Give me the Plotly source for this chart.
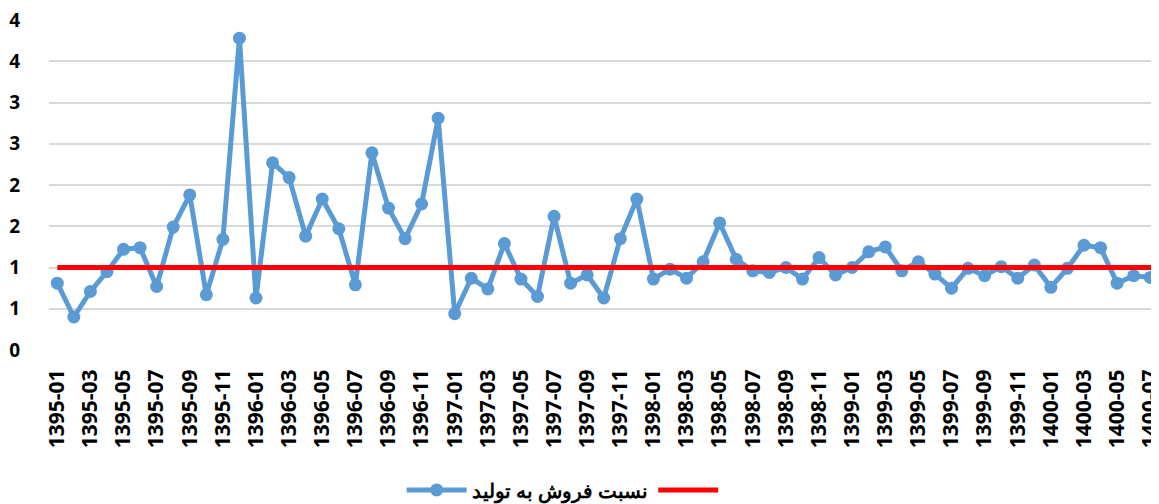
import plotly.graph_objects as go

months = [f"{y}-{m:02d}" for y in range(1395, 1401) for m in range(1, 13)][:68]

ratio = [0.81, 0.40, 0.71, 0.95, 1.22, 1.24, 0.77, 1.49, 1.88, 0.67, 1.34, 3.78,
         0.63, 2.27, 2.09, 1.38, 1.83, 1.47, 0.79, 2.39, 1.72, 1.35, 1.77, 2.81,
         0.44, 0.87, 0.74, 1.29, 0.86, 0.65, 1.62, 0.81, 0.91, 0.63, 1.35, 1.83,
         0.86, 0.98, 0.87, 1.07, 1.54, 1.10, 0.96, 0.94, 1.00, 0.86, 1.12, 0.91,
         1.00, 1.19, 1.25, 0.96, 1.07, 0.92, 0.75, 0.99, 0.90, 1.01, 0.87, 1.03,
         0.76, 0.99, 1.27, 1.24, 0.81, 0.90, 0.88, 1.09]
target = [1.0] * len(months)

series_name = "<b>نسبت فروش به تولید</b>"
y_tickvals = [0, 0.5, 1, 1.5, 2, 2.5, 3, 3.5, 4]
y_ticktext = ["0", "1", "1", "2", "2", "3", "3", "4", "4"]
x_tickvals = months[::2]

fig = go.Figure()
fig.add_trace(go.Scatter(
    x=months, y=ratio, name=series_name, mode="lines+markers",
    line=dict(color="#5B9BD5", width=5),
    marker=dict(color="#5B9BD5", size=13),
))
fig.add_trace(go.Scatter(
    x=months, y=target, name="", mode="lines",
    line=dict(color="#FF0000", width=5),
))

fig.update_layout(
    width=1151, height=496,
    margin=dict(l=41, r=0, t=12, b=154, autoexpand=False),
    plot_bgcolor="white", paper_bgcolor="white",
    font=dict(family="Open Sans", color="#000000"),
    showlegend=True,
    legend=dict(orientation="h", x=0.465, xanchor="center", y=-0.424, yanchor="middle",
                font=dict(size=20, family="Open Sans", color="#000000"),
                itemwidth=60),
)
fig.update_xaxes(
    type="category", range=[-0.5, 66.53], automargin=False, ticklabeloverflow="allow",
    tickmode="array", tickvals=x_tickvals, ticktext=x_tickvals,
    tickangle=-90, tickfont=dict(size=21, family="Open Sans", color="#000000", weight="bold"),
    showgrid=False, showline=False, zeroline=False, ticks="outside", ticklen=10, tickcolor="rgba(0,0,0,0)",
)
fig.update_yaxes(
    range=[0, 4], automargin=False, ticklabeloverflow="allow",
    tickmode="array", tickvals=y_tickvals, ticktext=y_ticktext,
    tickfont=dict(size=19, family="Open Sans", color="#000000", weight="bold"),
    showgrid=True, gridcolor="#D9D9D9", gridwidth=1.5,
    zeroline=False, showline=False, ticks="", ticklabelstandoff=28,
)

fig.write_html("out.html")
